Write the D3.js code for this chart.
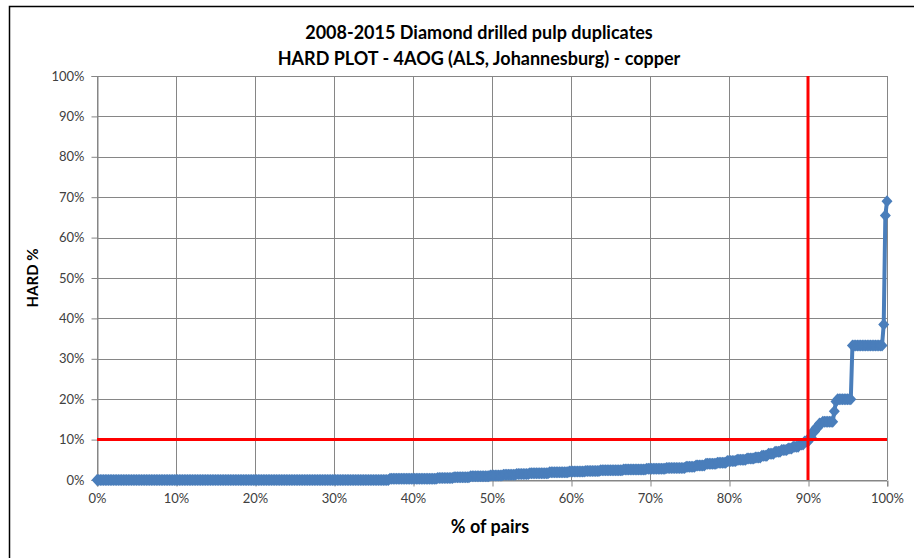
<!DOCTYPE html>
<html>
<head>
<meta charset="utf-8">
<script src="https://cdn.jsdelivr.net/npm/d3@7"></script>
<style>
  body { margin: 0; background: #fff; }
  svg { display: block; font-family: Lato, "Open Sans", sans-serif; }
</style>
</head>
<body>
<svg id="chart" width="914" height="558"></svg>
<script>
// Sorted HARD values (%), stored as runs: value and number of pairs
const hardValues = [0, 0.3, 0.5, 0.7, 0.9, 1.1, 1.3, 1.5, 1.7, 1.9, 2.1, 2.2, 2.4, 2.6,
    2.8, 3.0, 3.3, 3.6, 4.0, 4.3, 4.7, 5.0, 5.3, 5.6, 6.0, 6.5, 7.0, 7.4, 7.8, 8.2,
    8.8, 9.5, 10.5, 12, 13, 14, 14.4, 17, 19.4, 20, 33.3, 38.5, 65.5, 69];
const hardCounts = [178, 29, 10, 10, 12, 8, 8, 8, 12, 12, 10, 9, 14, 14,
    12, 12, 6, 6, 7, 6, 6, 6, 5, 4, 4, 4, 4, 4, 3, 4,
    3, 3, 2, 2, 2, 2, 7, 1, 1, 9, 19, 1, 1, 1];

const tickValues = [0, 10, 20, 30, 40, 50, 60, 70, 80, 90, 100];
const limitHard  = 10;   // horizontal red line
const limitPairs = 90;   // vertical red line

const titleLines = ["2008-2015 Diamond drilled pulp duplicates",
    "HARD PLOT - 4AOG (ALS, Johannesburg) - copper"];
const xTitle = "% of pairs";
const yTitle = "HARD %";

const width  = 914;
const height = 558;
const margin = {top: 76, right: 27, bottom: 78, left: 97};

const svg = d3.select("#chart");

// Expand the runs into one value per pair
let series = [];
hardValues.forEach((v, i) => {
    for (let k = 0; k < hardCounts[i]; k++) {
        series.push(v);
    }
});
const n = series.length;
const points = series.map((v, i) => ({x: i / (n - 1) * 100, y: v}));

const x = d3.scaleLinear()
    .domain([0, 100])
    .range([margin.left, width - margin.right]);

const y = d3.scaleLinear()
    .domain([0, 100])
    .range([height - margin.bottom, margin.top]);

const pct = d => d + "%";

// Outer frame (only top and left edges fall inside the picture)
svg.append("path")
    .attr("d", `M9.5,${height} V6.5 H${width}`)
    .attr("fill", "none")
    .attr("stroke", "#000")
    .attr("stroke-width", 1.5);

// Grid
const grid = svg.append("g").attr("class", "grid");

grid.selectAll("line.h")
    .data(tickValues)
    .join("line")
    .attr("class", "h")
    .attr("x1", x(0))
    .attr("x2", x(100))
    .attr("y1", d => Math.round(y(d)) + 0.5)
    .attr("y2", d => Math.round(y(d)) + 0.5)
    .attr("stroke", "#868686");

grid.selectAll("line.v")
    .data(tickValues)
    .join("line")
    .attr("class", "v")
    .attr("x1", d => Math.round(x(d)) + 0.5)
    .attr("x2", d => Math.round(x(d)) + 0.5)
    .attr("y1", y(0))
    .attr("y2", y(100))
    .attr("stroke", "#868686");

// Axes
const xAxis = svg.append("g")
    .attr("transform", `translate(0,${Math.round(y(0)) + 0.5})`)
    .call(d3.axisBottom(x).tickValues(tickValues).tickFormat(pct).tickSize(6).tickPadding(7));

const yAxis = svg.append("g")
    .attr("transform", `translate(${Math.round(x(0)) + 0.5},0)`)
    .call(d3.axisLeft(y).tickValues(tickValues).tickFormat(pct).tickSize(6).tickPadding(7));

[xAxis, yAxis].forEach(a => {
    a.select(".domain").attr("stroke", "#868686");
    a.selectAll(".tick line").attr("stroke", "#868686");
    a.selectAll(".tick text")
        .attr("fill", "#404040")
        .style("font-family", "Lato, sans-serif")
        .style("font-size", "13px");
});
xAxis.selectAll(".tick line").attr("transform", "translate(0.5,0)");

// Series: line with diamond markers
const line = d3.line()
    .x(d => x(d.x))
    .y(d => y(d.y));

svg.append("path")
    .datum(points)
    .attr("fill", "none")
    .attr("stroke", "#4a7ebb")
    .attr("stroke-width", 4)
    .attr("stroke-linejoin", "round")
    .attr("d", line);

svg.append("g")
    .selectAll("path")
    .data(points)
    .join("path")
    .attr("transform", d => `translate(${x(d.x)},${y(d.y)})`)
    .attr("d", "M0,-6L5.5,0L0,6L-5.5,0Z")
    .attr("fill", "#4a7ebb");

// Red limit lines
svg.append("line")
    .attr("x1", x(0))
    .attr("x2", x(100))
    .attr("y1", y(limitHard))
    .attr("y2", y(limitHard))
    .attr("stroke", "#ff0000")
    .attr("stroke-width", 3);

svg.append("line")
    .attr("x1", x(limitPairs))
    .attr("x2", x(limitPairs))
    .attr("y1", y(0))
    .attr("y2", y(100))
    .attr("stroke", "#ff0000")
    .attr("stroke-width", 3);

// Titles
svg.append("text")
    .attr("x", 479)
    .attr("y", 0)
    .attr("text-anchor", "middle")
    .attr("fill", "#000")
    .style("font-size", "18px")
    .style("font-weight", "bold")
    .selectAll("tspan")
    .data(titleLines)
    .join("tspan")
    .attr("x", 479)
    .attr("y", (d, i) => 39 + i * 26)
    .text(d => d);

svg.append("text")
    .attr("x", 490)
    .attr("y", 533)
    .attr("text-anchor", "middle")
    .style("font-size", "18px")
    .style("font-weight", "bold")
    .text(xTitle);

svg.append("text")
    .attr("transform", `translate(38,278) rotate(-90)`)
    .attr("text-anchor", "middle")
    .style("font-size", "15px")
    .style("font-weight", "bold")
    .text(yTitle);
</script>
</body>
</html>
